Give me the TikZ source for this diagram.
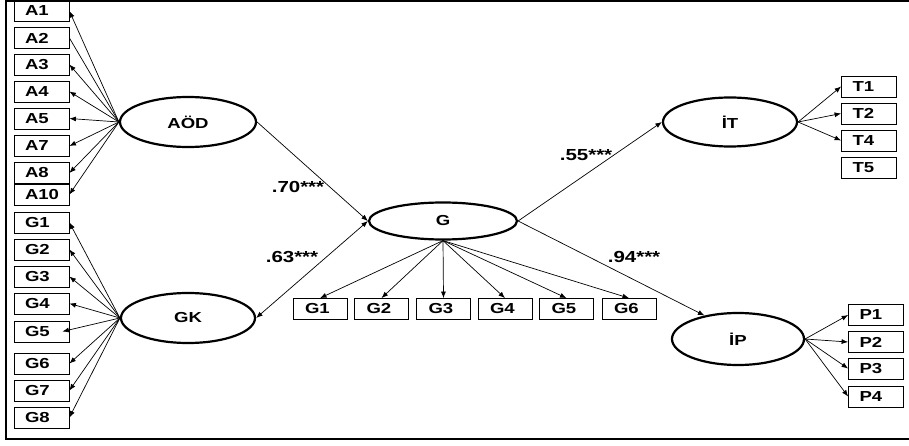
\documentclass[tikz,border=0pt]{standalone}
\usepackage{fontspec}
\setmainfont[FakeStretch=1.28]{Liberation Sans}
\usetikzlibrary{shapes.geometric,arrows.meta}
\begin{document}
\begin{tikzpicture}[x=1pt,y=-1pt,
  font=\fontsize{14.5}{16}\selectfont\bfseries,
  obs/.style={draw,line width=0.8pt,minimum height=21pt,inner xsep=11pt,inner ysep=0pt,text width=33pt,align=left},
  lat/.style={draw,ellipse,line width=2.2pt,inner sep=0pt},
  arr/.style={line width=0.7pt,-{Latex[length=6.5pt,width=5pt]}},
  plain/.style={line width=0.7pt},
  lbl/.style={inner sep=0pt,font=\fontsize{16}{18}\selectfont\bfseries}]
\useasboundingbox (0,0) rectangle (909,446);
\draw[line width=2pt] (909,1) -- (6,1) -- (6,439) -- (909,439);
% latent variables
\node[lat,minimum width=136pt,minimum height=50pt] (AOD) at (188,122) {AÖD};
\node[lat,minimum width=134pt,minimum height=50pt] (GK) at (188,318) {GK};
\node[lat,minimum width=148pt,minimum height=37pt] (G) at (443,221) {G};
\node[lat,minimum width=134pt,minimum height=49pt] (IT) at (730,122) {İT};
\node[lat,minimum width=132pt,minimum height=52pt] (IP) at (738,339) {İP};
% A indicators
\node[obs] (A1) at (41.5,11) {A1};
\node[obs] (A2) at (41.5,38) {A2};
\node[obs] (A3) at (41.5,64.5) {A3};
\node[obs] (A4) at (41.5,91.5) {A4};
\node[obs] (A5) at (41.5,118.5) {A5};
\node[obs] (A7) at (41.5,146) {A7};
\node[obs] (A8) at (41.5,173) {A8};
\node[obs] (A10) at (41.5,194.5) {A10};
% GK indicators
\node[obs] (K1) at (41.5,222.5) {G1};
\node[obs] (K2) at (41.5,249.5) {G2};
\node[obs] (K3) at (41.5,276.5) {G3};
\node[obs] (K4) at (41.5,303.5) {G4};
\node[obs] (K5) at (41.5,331.5) {G5};
\node[obs] (K6) at (41.5,363.5) {G6};
\node[obs] (K7) at (41.5,390.5) {G7};
\node[obs] (K8) at (41.5,417.5) {G8};
% G indicators
\node[obs,inner xsep=12pt,text width=30pt] (B1) at (320,309) {G1};
\node[obs,inner xsep=12pt,text width=30pt] (B2) at (381.5,309) {G2};
\node[obs,inner xsep=12pt,text width=30pt] (B3) at (443.5,309) {G3};
\node[obs,inner xsep=12pt,text width=30pt] (B4) at (505,309) {G4};
\node[obs,inner xsep=12pt,text width=30pt] (B5) at (566.5,309) {G5};
\node[obs,inner xsep=12pt,text width=30pt] (B6) at (629,309) {G6};
% T indicators
\node[obs] (T1) at (869,86.5) {T1};
\node[obs] (T2) at (869,113.5) {T2};
\node[obs] (T4) at (869,140.5) {T4};
\node[obs] (T5) at (869,167.5) {T5};
% P indicators
\node[obs] (P1) at (876,315) {P1};
\node[obs] (P2) at (876,342) {P2};
\node[obs] (P3) at (876,368.5) {P3};
\node[obs] (P4) at (876,396.5) {P4};
% loadings AOD
\foreach \n in {A1,A3,A4,A5,A7,A8,A10} \draw[arr] (AOD.west) -- (\n.east);
\draw[plain] (AOD.west) -- (A2.east);
% loadings GK
\foreach \n in {K1,K2,K3,K4,K6,K7,K8} \draw[arr] (GK.west) -- (\n.east);
\draw[arr] (GK.west) -- ([xshift=-7pt]K5.east);
% loadings G
\foreach \n in {B1,B2,B3,B4,B5,B6} \draw[arr] (G.south) -- (\n.north);
% loadings IT, IP
\foreach \n in {T1,T2,T4} \draw[arr] (IT.east) -- (\n.west);
\foreach \n in {P1,P2,P3,P4} \draw[arr] (IP.east) -- (\n.west);
% structural paths
\draw[arr] (AOD.east) -- (G.west);
\draw[arr,{Latex[length=6.5pt,width=5pt]}-{Latex[length=6.5pt,width=5pt]}] (GK.east) -- (G.west);
\draw[arr] (G.east) -- (IT.west);
\draw[arr] (G.east) -- (IP.145);
% labels
\node[lbl] (L70) at (298,187) {.70***};
\node[lbl] (L63) at (292,257) {.63***};
\node[lbl] (L55) at (586,155) {.55***};
\node[lbl] (L94) at (634,257) {.94***};
\end{tikzpicture}
\end{document}
